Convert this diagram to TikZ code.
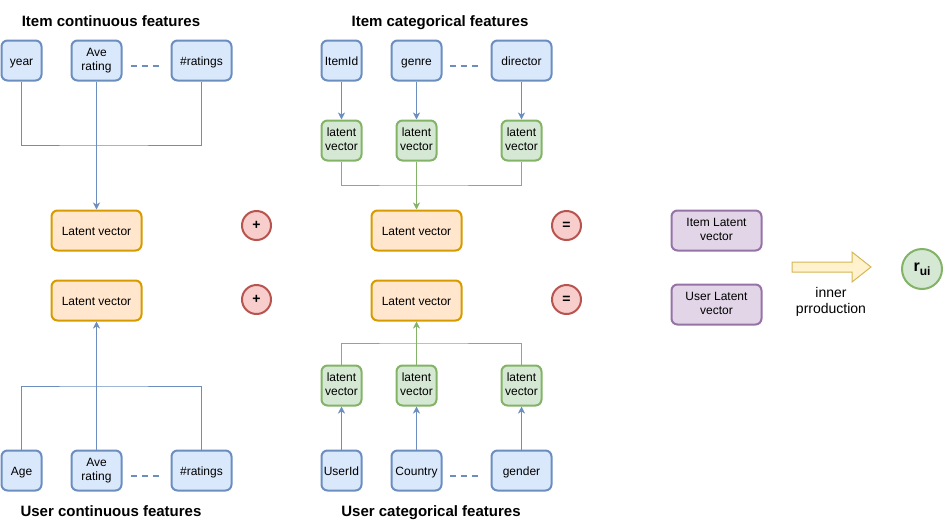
\documentclass[tikz,border=0pt]{standalone}
\usepackage{fontspec}
\setmainfont{Liberation Sans}
\usetikzlibrary{arrows.meta}
\definecolor{bfill}{HTML}{DAE8FC}\definecolor{bline}{HTML}{6C8EBF}
\definecolor{gfill}{HTML}{D5E8D4}\definecolor{gline}{HTML}{82B366}
\definecolor{ofill}{HTML}{FFE6CC}\definecolor{oline}{HTML}{D79B00}
\definecolor{rfill}{HTML}{F8CECC}\definecolor{rline}{HTML}{B85450}
\definecolor{pfill}{HTML}{E1D5E7}\definecolor{pline}{HTML}{9673A6}
\definecolor{yfill}{HTML}{FFF2CC}\definecolor{yline}{HTML}{D6B656}
\tikzset{
  box/.style={rectangle, rounded corners=6pt, line width=2pt, minimum height=40pt, inner sep=0pt, align=center, font=\fontsize{12}{14}\selectfont,
    execute at begin node={\rule{0pt}{12pt}}, execute at end node={\rule[-2.5pt]{0pt}{2.5pt}}},
  feat/.style={box, fill=bfill, draw=bline},
  glat/.style={box, fill=gfill, draw=gline, minimum width=40pt},
  olat/.style={box, fill=ofill, draw=oline, minimum width=90pt},
  plat/.style={box, fill=pfill, draw=pline, minimum width=90pt},
  opcirc/.style={circle, fill=rfill, draw=rline, line width=2pt, minimum size=29pt, inner sep=0pt, font=\fontsize{14}{14}\selectfont\bfseries},
  ttl/.style={font=\fontsize{15}{18}\selectfont\bfseries, inner sep=0pt, anchor=base},
  bcon/.style={draw=bline, line width=1pt},
  gcon/.style={draw=gline, line width=1pt},
  tip/.style={-{Stealth[length=7pt,width=7pt,inset=2pt]}},
  dotline/.style={draw=bline, line width=2pt, dash pattern=on 6pt off 5pt},
}
\begin{document}
\begin{tikzpicture}[x=1pt,y=-1pt]
\useasboundingbox (0,0) rectangle (943,531);
% titles
\node[ttl] (t1) at (111,26) {Item continuous features};
\node[ttl] (t2) at (440,26) {Item categorical features};
\node[ttl] (t3) at (111,516) {User continuous features};
\node[ttl] (t4) at (431,516) {User categorical features};
% item continuous
\node[feat, minimum width=40pt] (year) at (21.5,60.5) {year};
\node[feat, minimum width=50pt] (ave1) at (96.5,60.5) {Ave\\rating};
\node[feat, minimum width=60pt] (rat1) at (201.5,60.5) {\#ratings};
% item categorical
\node[feat, minimum width=40pt] (itemid) at (341.5,60.5) {ItemId};
\node[feat, minimum width=50pt] (genre) at (416.5,60.5) {genre};
\node[feat, minimum width=60pt] (director) at (521.5,60.5) {director};
\node[glat] (lv1) at (341.5,140.5) {latent\\vector};
\node[glat] (lv2) at (416.5,140.5) {latent\\vector};
\node[glat] (lv3) at (521.5,140.5) {latent\\vector};
% latent vectors
\node[olat] (ilat1) at (96.5,230.5) {Latent vector};
\node[olat] (ulat1) at (96.5,300.5) {Latent vector};
\node[olat] (ilat2) at (416.5,230.5) {Latent vector};
\node[olat] (ulat2) at (416.5,300.5) {Latent vector};
\node[opcirc] (plus1) at (256.5,225.5) {+};
\node[opcirc] (plus2) at (256.5,299.5) {+};
\node[opcirc] (eq1) at (566.5,225.5) {=};
\node[opcirc] (eq2) at (566.5,299.5) {=};
\node[plat] (ivec) at (716.5,230.5) {Item Latent\\vector};
\node[plat] (uvec) at (716.5,304.5) {User Latent\\vector};
% big arrow
\draw[fill=yfill, draw=yline, line width=1pt] (792,262) -- (852,262) -- (852,252) -- (871,267) -- (852,282) -- (852,272) -- (792,272) -- cycle;
\node[align=center, font=\fontsize{14}{16}\selectfont, inner sep=0pt] (inner) at (831,301.5) {inner\\prroduction};
\node[circle, fill=gfill, draw=gline, line width=2pt, minimum size=40pt, inner sep=0pt] (rui) at (922,269) {\fontsize{16}{18}\selectfont\bfseries r\raisebox{-3.5pt}{\fontsize{12}{12}\selectfont ui}};
% user continuous
\node[feat, minimum width=40pt] (age) at (21.5,470.5) {Age};
\node[feat, minimum width=50pt] (ave2) at (96.5,470.5) {Ave\\rating};
\node[feat, minimum width=60pt] (rat2) at (201.5,470.5) {\#ratings};
% user categorical
\node[feat, minimum width=40pt] (userid) at (341.5,470.5) {UserId};
\node[feat, minimum width=50pt] (country) at (416.5,470.5) {Country};
\node[feat, minimum width=60pt] (gender) at (521.5,470.5) {gender};
\node[glat] (ulv1) at (341.5,385.5) {latent\\vector};
\node[glat] (ulv2) at (416.5,385.5) {latent\\vector};
\node[glat] (ulv3) at (521.5,385.5) {latent\\vector};
% dashed ellipses between features
\draw[dotline, shorten <=8pt, shorten >=11pt] ([yshift=-5.5pt]ave1.east) -- ([yshift=-5.5pt]rat1.west);
\draw[dotline, shorten <=7pt, shorten >=11pt] ([yshift=-5.5pt]genre.east) -- ([yshift=-5.5pt]director.west);
\draw[dotline, shorten <=8pt, shorten >=11pt] ([yshift=-5.5pt]ave2.east) -- ([yshift=-5.5pt]rat2.west);
\draw[dotline, shorten <=7pt, shorten >=11pt] ([yshift=-5.5pt]country.east) -- ([yshift=-5.5pt]gender.west);
% connectors item continuous
\coordinate (j1) at (96.5,145);
\draw[bcon] (year.south) |- (j1) -| (rat1.south);
\draw[bcon, tip] (ave1.south) -- (ilat1.north);
% item categorical
\draw[bcon, tip] (itemid.south) -- (lv1.north);
\draw[bcon, tip] (genre.south) -- (lv2.north);
\draw[bcon, tip] (director.south) -- (lv3.north);
\coordinate (j2) at (416.5,185);
\draw[gcon] (lv1.south) |- (j2) -| (lv3.south);
\draw[gcon, tip] (lv2.south) -- (ilat2.north);
% user continuous
\coordinate (j3) at (96.5,386);
\draw[bcon] (age.north) |- (j3) -| (rat2.north);
\draw[bcon, tip] (ave2.north) -- (ulat1.south);
% user categorical
\draw[bcon, tip] (userid.north) -- (ulv1.south);
\draw[bcon, tip] (country.north) -- (ulv2.south);
\draw[bcon, tip] (gender.north) -- (ulv3.south);
\coordinate (j4) at (416.5,343);
\draw[gcon] (ulv1.north) |- (j4) -| (ulv3.north);
\draw[gcon, tip] (ulv2.north) -- (ulat2.south);
\end{tikzpicture}
\end{document}
